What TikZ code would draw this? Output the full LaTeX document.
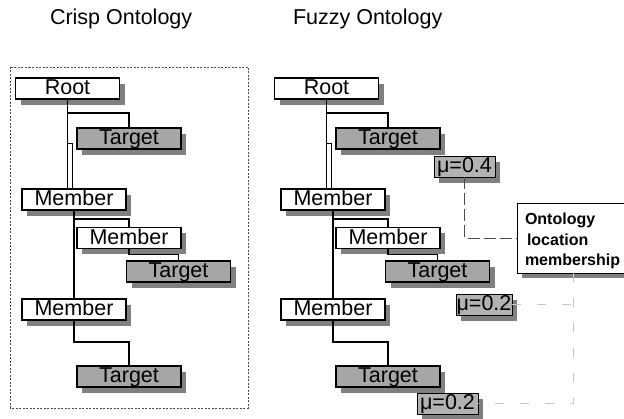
\documentclass[tikz,border=0pt]{standalone}
\usepackage{fontspec}
\setmainfont{Liberation Sans}
\usetikzlibrary{shadows}
\definecolor{shadowgray}{HTML}{808080}
\definecolor{boxgray}{HTML}{A6A6A6}
\definecolor{mugray}{HTML}{B2B2B2}
\begin{document}
\begin{tikzpicture}[x=1pt,y=-1pt,
  every node/.style={inner sep=0pt, outer sep=0pt},
  bigtxt/.style={font=\fontsize{21.5}{24}\selectfont},
  obox/.style={bigtxt, draw=black, line width=1.3pt, minimum width=104pt,
    minimum height=21pt, text height=16pt, text depth=3.5pt,
    drop shadow={shadow xshift=5pt, shadow yshift=-6pt, fill=shadowgray, opacity=1}},
  wbox/.style={obox, fill=white},
  gbox/.style={obox, fill=boxgray},
  mubox/.style={obox, fill=mugray, line width=0.8pt},
  conn/.style={line width=1.5pt, black},
  fz/.style={line width=0.9pt, gray!60!black, dash pattern=on 12pt off 4pt},
  fzb/.style={line width=0.9pt, gray!45, dash pattern=on 9pt off 16pt},
  ontotxt/.style={anchor=base west, font=\bfseries\fontsize{16}{20}\selectfont}
]
\useasboundingbox (0,0) rectangle (624,419);

% titles
\node[bigtxt, anchor=base west] (title1) at (50,25) {Crisp Ontology};
\node[bigtxt, anchor=base west] (title2) at (293,25) {Fuzzy Ontology};

% dotted frame of the crisp ontology
\draw[line width=0.8pt, gray!60!black, dash pattern=on 2pt off 1.5pt] (10,67) rectangle (248,408);

% the two trees
\foreach \p/\dx in {L/0,R/259}{
  \begin{scope}[xshift=\dx pt]
    \node[wbox] (\p root) at (67.5,88.5) {Root};
    \node[gbox] (\p tgt1) at (129,138.5) {Target};
    \node[wbox] (\p mem1) at (74,199.5) {Member};
    \node[wbox] (\p mem2) at (129,238) {Member};
    \node[gbox] (\p tgt2) at (178.5,271.5) {Target};
    \node[wbox] (\p mem3) at (74,309.5) {Member};
    \node[gbox] (\p tgt3) at (129,376.5) {Target};
  \end{scope}
  \draw[conn] (\p root.south) -- (\p root.south |- \p mem1.north);
  \draw[conn] ([yshift=-14pt]\p root.south) -| (\p tgt1.north);
  \draw[line width=1pt] ([yshift=-45pt]\p root.south) -| ([xshift=5pt]\p root.south |- \p mem1.north);
  \draw[conn] (\p mem1.south) -- (\p mem1.south |- \p mem3.north);
  \draw[conn] ([yshift=-9pt]\p mem1.south) -| (\p mem2.north);
  \draw[conn] (\p mem2.south) -- ([yshift=-6pt]\p mem2.south) -| (\p tgt2.north);
  \draw[conn] (\p mem3.south) -- ([yshift=-22pt]\p mem3.south) -| (\p tgt3.north);
}

% membership degrees
\node[mubox, minimum width=61pt] (mu1) at (464.5,166.5) {μ=0.4};
\node[mubox, minimum width=56pt] (mu2) at (484,304.5) {μ=0.2};
\node[mubox, minimum width=61pt] (mu3) at (447.5,403.5) {μ=0.2};

% ontology location membership box
\begin{scope}
  \clip (0,0) rectangle (624,419);
  \fill[shadowgray] (522,208) rectangle (640,278);
  \node[fill=white, anchor=north west, minimum width=120pt, minimum height=70pt] (onto) at (517,203) {};
  \draw[line width=0.8pt] (onto.north east) -- (onto.north west) -- (onto.south west) -- (onto.south east);
\end{scope}
\node[ontotxt] (onto1) at (525,225) {Ontology};
\node[ontotxt] (onto2) at (527,245.5) {location};
\node[ontotxt] (onto3) at (525,266) {membership};

% dashed membership links
\coordinate (vx) at ([xshift=56pt]onto.south west);
\draw[fz] (mu1.south) |- (onto.west);
\draw[fzb] (vx) |- (mu3.east);
\draw[fzb] (mu2.east) -- (mu2.east -| vx);
\end{tikzpicture}
\end{document}
